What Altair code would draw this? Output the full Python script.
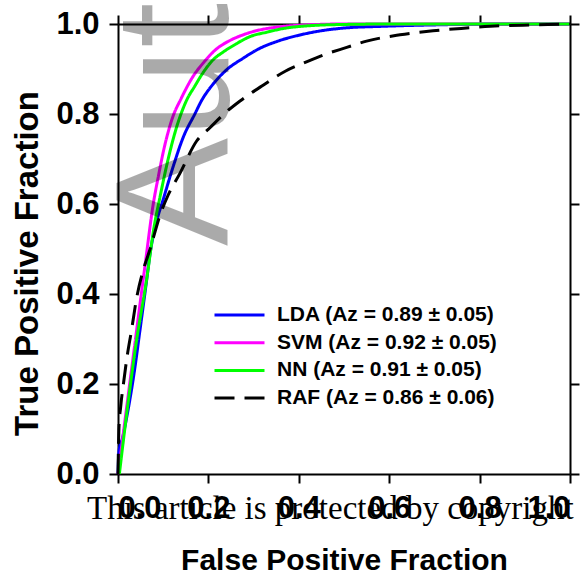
import altair as alt
import pandas as pd

# ---- data ----
lda_x = [0.0, 0.002, 0.01, 0.02, 0.035, 0.05, 0.062, 0.071, 0.085, 0.1, 0.122, 0.145, 0.17, 0.185, 0.21, 0.24, 0.277, 0.31, 0.351, 0.4, 0.45, 0.5, 0.59, 0.7, 0.85, 1.0]
lda_y = [0.0, 0.05, 0.08, 0.13, 0.22, 0.33, 0.42, 0.49, 0.56, 0.61, 0.683, 0.75, 0.8, 0.83, 0.866, 0.898, 0.924, 0.944, 0.961, 0.975, 0.985, 0.991, 0.995, 0.998, 1.0, 1.0]

svm_x = [0.0, 0.004, 0.02, 0.04, 0.06, 0.078, 0.09, 0.1, 0.12, 0.14, 0.167, 0.19, 0.215, 0.245, 0.277, 0.31, 0.351, 0.42, 0.5, 1.0]
svm_y = [0.0, 0.03, 0.155, 0.31, 0.465, 0.6, 0.665, 0.715, 0.79, 0.835, 0.885, 0.915, 0.942, 0.962, 0.976, 0.986, 0.993, 0.998, 1.0, 1.0]

nn_x = [0.003, 0.02, 0.04, 0.063, 0.08, 0.093, 0.111, 0.13, 0.152, 0.17, 0.185, 0.21, 0.233, 0.26, 0.292, 0.33, 0.366, 0.42, 0.5, 0.6, 1.0]
nn_y = [0.0, 0.14, 0.29, 0.43, 0.55, 0.616, 0.7, 0.772, 0.831, 0.862, 0.887, 0.92, 0.938, 0.955, 0.972, 0.982, 0.99, 0.996, 0.999, 1.0, 1.0]

raf_x = [0.0, 0.002, 0.006, 0.012, 0.02, 0.03, 0.041, 0.055, 0.071, 0.093, 0.111, 0.137, 0.174, 0.204, 0.24, 0.27, 0.321, 0.37, 0.417, 0.454, 0.506, 0.55, 0.624, 0.697, 0.771, 0.845, 0.92, 1.0]
raf_y = [0.0, 0.1, 0.15, 0.2, 0.26, 0.32, 0.39, 0.45, 0.5, 0.575, 0.62, 0.668, 0.74, 0.77, 0.805, 0.829, 0.864, 0.895, 0.916, 0.931, 0.948, 0.962, 0.976, 0.985, 0.991, 0.996, 0.998, 1.0]

series_names = ["LDA (Az = 0.89 \u00b1 0.05)", "SVM (Az = 0.92 \u00b1 0.05)",
                "NN (Az = 0.91 \u00b1 0.05)", "RAF (Az = 0.86 \u00b1 0.06)"]
series_colors = ["#0000ff", "#ff00ff", "#00ff00", "#000000"]
series_dashes = [[1, 0], [1, 0], [1, 0], [20, 10]]
ticks = [0.0, 0.2, 0.4, 0.6, 0.8, 1.0]

rows = []
for name, xs, ys in zip(series_names, [lda_x, svm_x, nn_x, raf_x], [lda_y, svm_y, nn_y, raf_y]):
    for i, (a, b) in enumerate(zip(xs, ys)):
        rows.append({"series": name, "fpf": a, "tpf": b, "order": i})
df = pd.DataFrame(rows)

FONT = "Liberation Sans"
xscale = alt.Scale(domain=[0, 1], nice=False, zero=False)
yscale = alt.Scale(domain=[0, 1], nice=False, zero=False)

common_axis = dict(domainColor="black", domainWidth=2, tickColor="black", tickWidth=2,
                   tickSize=9, grid=False, values=ticks)

legend_kw = dict(orient="none", legendX=95, legendY=281, title=None,
                 symbolType="stroke", symbolSize=2500, clipHeight=20,
                 symbolStrokeWidth=3, labelFont=FONT,
                 labelFontWeight="bold", labelFontSize=21,
                 labelColor="black", rowPadding=6.7, labelOffset=11,
                 labelLimit=400)

lines = alt.Chart(df).mark_line(strokeWidth=3, interpolate="monotone").encode(
    x=alt.X("fpf:Q", scale=xscale,
            axis=alt.Axis(title="False Positive Fraction", format=".1f", orient="bottom",
                          labelFont=FONT, labelFontWeight="bold", labelFontSize=31,
                          labelColor="black", labelPadding=10,
                          titleFont=FONT, titleFontWeight="bold", titleFontSize=30,
                          titleColor="black", titleY=86, titleBaseline="middle",
                          **common_axis)),
    y=alt.Y("tpf:Q", scale=yscale,
            axis=alt.Axis(title="True Positive Fraction", format=".1f", orient="left",
                          labelFont=FONT, labelFontWeight="bold", labelFontSize=31,
                          labelColor="black", labelPadding=10,
                          titleFont=FONT, titleFontWeight="bold", titleFontSize=33,
                          titleColor="black", titleX=-91, titleY=239, titleAngle=270,
                          titleAlign="center", titleBaseline="middle",
                          **common_axis)),
    color=alt.Color("series:N", scale=alt.Scale(domain=series_names, range=series_colors),
                    legend=alt.Legend(**legend_kw)),
    strokeDash=alt.StrokeDash("series:N", scale=alt.Scale(domain=series_names, range=series_dashes),
                              legend=alt.Legend(**legend_kw)),
    order="order:Q",
    detail="series:N",
)

frame = alt.Chart(df).mark_point(opacity=0).encode(
    x=alt.X("fpf:Q", scale=xscale,
            axis=alt.Axis(title=None, orient="top", labels=False, **common_axis)),
    y=alt.Y("tpf:Q", scale=yscale,
            axis=alt.Axis(title=None, orient="right", labels=False, **common_axis)),
)

wm = alt.Chart(pd.DataFrame({"t": ["Author Manuscript"]})).mark_text(
    angle=270, align="left", baseline="alphabetic", fontSize=162, font=FONT,
    color="black", opacity=0.33
).encode(text="t:N", x=alt.value(110), y=alt.value(222))

copy = alt.Chart(pd.DataFrame({"t": ["This article is protected by copyright"]})).mark_text(
    align="left", baseline="alphabetic", fontSize=33, font="Liberation Serif", color="black"
).encode(text="t:N", x=alt.value(-31), y=alt.value(495))

chart = alt.layer(lines, frame, wm, copy).resolve_axis(x="independent", y="independent").properties(
    width=452, height=450,
    autosize=alt.AutoSizeParams(type="none"),
    padding={"left": 118, "top": 24, "right": 17, "bottom": 101},
).configure_view(stroke=None).configure(background="white")

chart.save("out.html", embed_options={"renderer": "svg", "actions": False})
